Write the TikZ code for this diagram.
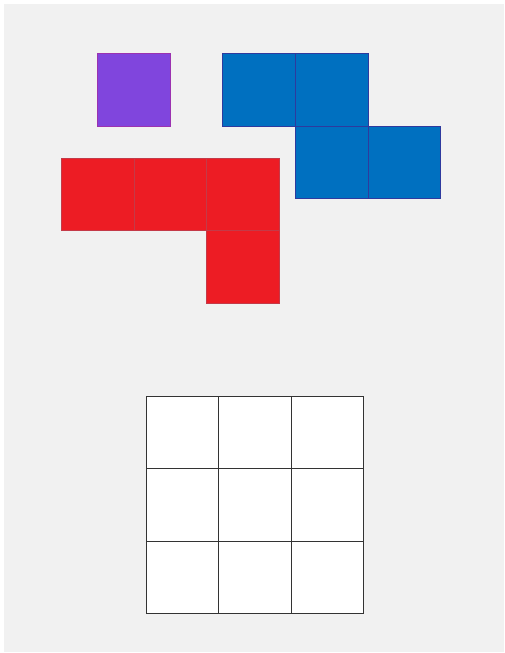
\documentclass[tikz,border=0pt]{standalone}
\definecolor{bg}{HTML}{F1F1F1}
\definecolor{purp}{HTML}{8045DD}
\definecolor{purpedge}{HTML}{9B32B0}
\definecolor{blu}{HTML}{0070C0}
\definecolor{bluedge}{HTML}{2E3A9E}
\definecolor{rd}{HTML}{ED1C24}
\definecolor{rdedge}{HTML}{C43A48}
\definecolor{gridedge}{HTML}{333333}
\tikzset{
  cell/.style={line width=1pt},
  pcell/.style={cell, fill=purp, draw=purpedge},
  bcell/.style={cell, fill=blu, draw=bluedge},
  rcell/.style={cell, fill=rd, draw=rdedge},
  wcell/.style={cell, fill=white, draw=gridedge},
}
\begin{document}
\begin{tikzpicture}[x=1pt,y=-1pt]
\useasboundingbox (0,0) rectangle (504,653);
\fill[white] (0,0) rectangle (504,653);
\fill[bg] (4,4) rectangle (504,652);
% purple
\draw[pcell] (97.5,53.5) rectangle (170.5,126);
% blue
\draw[bcell] (222.5,53.5) rectangle (295.5,126);
\draw[bcell] (295.5,53.5) rectangle (368,126);
\draw[bcell] (295.5,126) rectangle (368,198.5);
\draw[bcell] (368,126) rectangle (440.5,198.5);
% red
\draw[rcell] (61.5,158) rectangle (134,230.5);
\draw[rcell] (134,158) rectangle (206.5,230.5);
\draw[rcell] (206.5,158) rectangle (279,230.5);
\draw[rcell] (206.5,230.5) rectangle (279,303);
% grid
\foreach \i in {0,1,2}{
  \foreach \j in {0,1,2}{
    \draw[wcell] ({146+72.5*\i},{396+72.5*\j}) rectangle ({146+72.5*(\i+1)},{396+72.5*(\j+1)});
  }
}
\end{tikzpicture}
\end{document}
